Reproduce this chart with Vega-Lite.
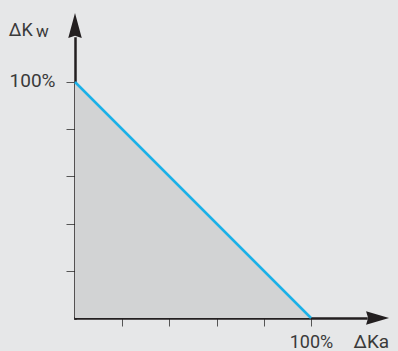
{
  "$schema": "https://vega.github.io/schema/vega-lite/v6.json",
  "width": 291,
  "height": 280,
  "autosize": {"type": "none"},
  "padding": {"left": 75, "top": 38, "right": 32, "bottom": 33},
  "background": "#e6e7e8",
  "config": {"view": {"stroke": null}, "font": "Roboto"},
  "data": {"values": [{"ka": 0, "kw": 100}, {"ka": 100, "kw": 0}]},
  "encoding": {
    "x": {
      "field": "ka", "type": "quantitative",
      "scale": {"domain": [0, 123.3], "nice": false, "zero": false},
      "axis": {
        "values": [20, 40, 60, 80, 100],
        "labelExpr": "datum.value == 100 ? '100%' : ''",
        "grid": false,
        "domainColor": "#231f20", "domainWidth": 2.5, "domainCap": "square",
        "tickColor": "#555555", "tickWidth": 1, "tickSize": 8,
        "labelFontSize": 18, "labelColor": "#3a3a3a", "labelFont": "Roboto", "labelFontWeight": "normal",
        "labelPadding": 7, "labelOverlap": false,
        "title": "ΔKa", "titleX": 278, "titleY": 29, "titleAlign": "left", "titleBaseline": "alphabetic",
        "titleFontSize": 19, "titleFontWeight": "normal", "titleColor": "#3a3a3a", "titleFont": "Roboto"
      }
    },
    "y": {
      "field": "kw", "type": "quantitative",
      "scale": {"domain": [0, 118.64], "nice": false, "zero": false},
      "axis": {
        "values": [20, 40, 60, 80, 100],
        "labelExpr": "datum.value == 100 ? '100%' : ''",
        "grid": false,
        "domainColor": "#231f20", "domainWidth": 2.5, "domainCap": "square",
        "tickColor": "#555555", "tickWidth": 1, "tickSize": 9,
        "labelFontSize": 19, "labelColor": "#3a3a3a", "labelFont": "Roboto", "labelFontWeight": "normal",
        "labelPadding": 11, "labelOverlap": false, "labelOffset": -1,
        "title": "ΔK", "titleX": -66.7, "titleY": -2.5, "titleAngle": 0, "titleAlign": "left", "titleBaseline": "alphabetic",
        "titleFontSize": 18, "titleFontWeight": "normal", "titleColor": "#3a3a3a", "titleFont": "Roboto"
      }
    }
  },
  "layer": [
    {"mark": {"type": "area", "color": "#d2d3d4"}},
    {"mark": {"type": "line", "color": "#1ab1e8", "strokeWidth": 2.5}},
    {
      "transform": [{"filter": "datum.ka == 0"}],
      "mark": {"type": "point", "shape": "M1,0L-1,-0.58L-0.82,0L-1,0.58Z", "size": 529, "filled": true, "color": "#231f20", "opacity": 1},
      "encoding": {"x": {"datum": 128.2}, "y": {"datum": 0}}
    },
    {
      "transform": [{"filter": "datum.ka == 0"}],
      "mark": {"type": "point", "shape": "M0,-1L0.54,1L0,0.82L-0.54,1Z", "size": 625, "filled": true, "color": "#231f20", "opacity": 1},
      "encoding": {"x": {"datum": 0}, "y": {"datum": 123.94}}
    },
    {
      "transform": [{"filter": "datum.ka == 0"}],
      "mark": {"type": "text", "text": "w", "fontSize": 17, "fontWeight": "normal", "font": "Roboto", "color": "#3a3a3a", "align": "left", "baseline": "alphabetic", "dx": -39},
      "encoding": {"x": {"datum": 0}, "y": {"datum": 118.9}}
    }
  ]
}
